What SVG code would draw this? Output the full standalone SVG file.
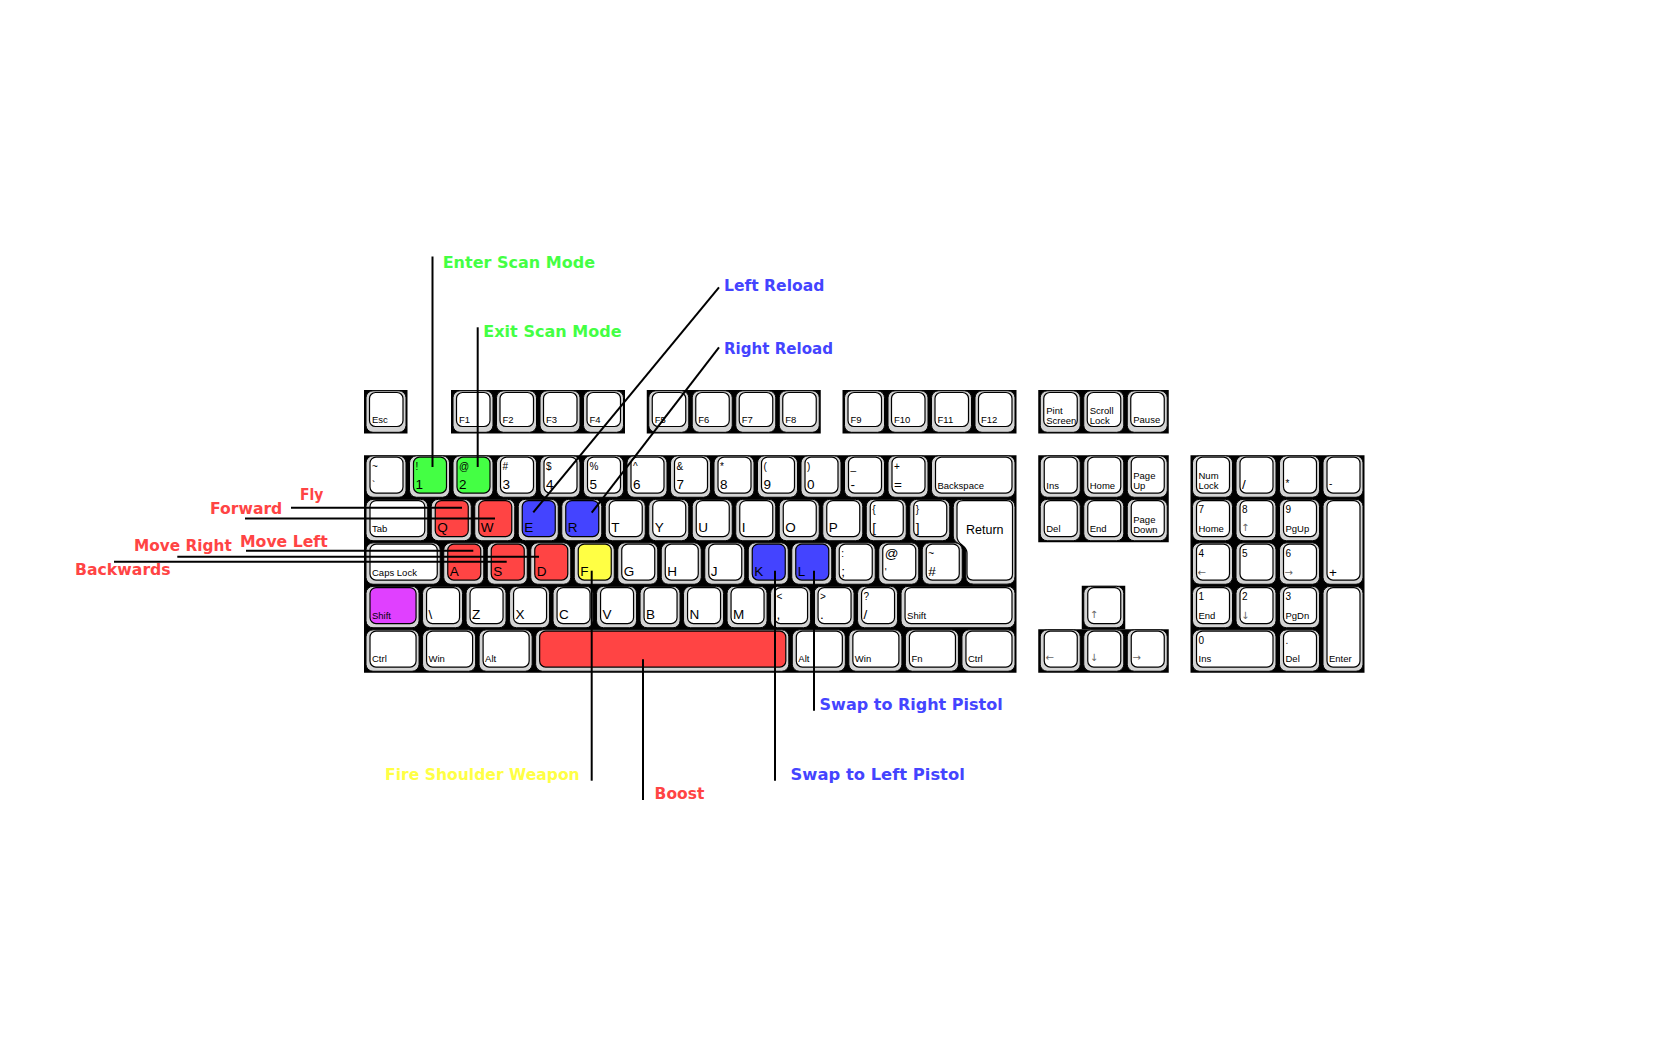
<svg xmlns="http://www.w3.org/2000/svg" width="1680" height="1050" viewBox="0 0 1680 1050">
<style>
.blk{fill:#000}
.w{fill:#fff}.g{fill:#44ff44}.r{fill:#ff4444}.b{fill:#4444ff}.y{fill:#ffff44}.m{fill:#e040ff}
text{font-family:"Liberation Sans",Arial,sans-serif;fill:#000}
.s{font-size:9.5px}.n{font-size:10px}.l{font-size:13.5px}.ar{font-family:"DejaVu Sans",sans-serif;font-size:10px;fill:#666}.ret{font-size:12.5px}
.lbl{font-family:"DejaVu Sans",Verdana,sans-serif;font-weight:bold;font-size:15.5px}
.lg{fill:#44ff44}.lr{fill:#ff4444}.lb{fill:#4444ff}.ly{fill:#ffff44}
#connectors line{stroke:#000;stroke-width:2}
</style>
<defs>
<g id="kF"><rect x="2" y="0.8" width="40" height="41.5" rx="7" fill="#d4d4d4" stroke="#000"/><rect x="5.5" y="2.5" width="33.5" height="34" rx="6" stroke="#000" stroke-width="1.2"/></g>
<g id="kU"><rect x="2" y="0.6" width="40" height="41.4" rx="7" fill="#d4d4d4" stroke="#000"/><rect x="6" y="1.8" width="33" height="36" rx="6" stroke="#000" stroke-width="1.2"/></g>
<g id="kBk"><rect x="2" y="0.6" width="83.5" height="41.4" rx="7" fill="#d4d4d4" stroke="#000"/><rect x="6" y="1.8" width="76.5" height="36" rx="6" stroke="#000" stroke-width="1.2"/></g>
<g id="kTab"><rect x="2" y="0.6" width="61.75" height="41.4" rx="7" fill="#d4d4d4" stroke="#000"/><rect x="6" y="1.8" width="54.75" height="36" rx="6" stroke="#000" stroke-width="1.2"/></g>
<g id="kCaps"><rect x="2" y="0.6" width="74.25" height="41.4" rx="7" fill="#d4d4d4" stroke="#000"/><rect x="6" y="1.8" width="67.25" height="36" rx="6" stroke="#000" stroke-width="1.2"/></g>
<g id="kM"><rect x="2" y="0.6" width="53.05" height="41.4" rx="7" fill="#d4d4d4" stroke="#000"/><rect x="6" y="1.8" width="46.05" height="36" rx="6" stroke="#000" stroke-width="1.2"/></g>
<g id="kRS"><rect x="2" y="0.6" width="113.95" height="41.4" rx="7" fill="#d4d4d4" stroke="#000"/><rect x="6" y="1.8" width="106.95" height="36" rx="6" stroke="#000" stroke-width="1.2"/></g>
<g id="kSp"><rect x="2" y="0.6" width="253.15" height="41.4" rx="7" fill="#d4d4d4" stroke="#000"/><rect x="6" y="1.8" width="246.15" height="36" rx="6" stroke="#000" stroke-width="1.2"/></g>
<g id="kT"><rect x="2" y="0.6" width="40" height="84.9" rx="7" fill="#d4d4d4" stroke="#000"/><rect x="6" y="1.8" width="33" height="79.5" rx="6" stroke="#000" stroke-width="1.2"/></g>
</defs>
<rect width="1680" height="1050" fill="#fff"/>

<g id="blocks">
<rect class="blk" x="364" y="390" width="43.5" height="43.5"/>
<rect class="blk" x="451" y="390" width="174" height="43.5"/>
<rect class="blk" x="646.75" y="390" width="174" height="43.5"/>
<rect class="blk" x="842.5" y="390" width="174" height="43.5"/>
<rect class="blk" x="1038.25" y="390" width="130.5" height="43.5"/>
<rect class="blk" x="364" y="455.25" width="652.5" height="217.5"/>
<rect class="blk" x="1038.25" y="455.25" width="130.5" height="87"/>
<rect class="blk" x="1081.75" y="585.75" width="43.5" height="43.5"/>
<rect class="blk" x="1038.25" y="629.25" width="130.5" height="43.5"/>
<rect class="blk" x="1190.5" y="455.25" width="174" height="217.5"/>
</g>

<g id="frow">
<g id="k-esc"><use href="#kF" x="364" y="390" class="w"/><text class="s" x="372" y="423">Esc</text></g>
<g id="k-f1"><use href="#kF" x="451" y="390" class="w"/><text class="s" x="459" y="423">F1</text></g>
<g id="k-f2"><use href="#kF" x="494.5" y="390" class="w"/><text class="s" x="502.5" y="423">F2</text></g>
<g id="k-f3"><use href="#kF" x="538" y="390" class="w"/><text class="s" x="546" y="423">F3</text></g>
<g id="k-f4"><use href="#kF" x="581.5" y="390" class="w"/><text class="s" x="589.5" y="423">F4</text></g>
<g id="k-f5"><use href="#kF" x="646.75" y="390" class="w"/><text class="s" x="654.75" y="423">F5</text></g>
<g id="k-f6"><use href="#kF" x="690.25" y="390" class="w"/><text class="s" x="698.25" y="423">F6</text></g>
<g id="k-f7"><use href="#kF" x="733.75" y="390" class="w"/><text class="s" x="741.75" y="423">F7</text></g>
<g id="k-f8"><use href="#kF" x="777.25" y="390" class="w"/><text class="s" x="785.25" y="423">F8</text></g>
<g id="k-f9"><use href="#kF" x="842.5" y="390" class="w"/><text class="s" x="850.5" y="423">F9</text></g>
<g id="k-f10"><use href="#kF" x="886" y="390" class="w"/><text class="s" x="894" y="423">F10</text></g>
<g id="k-f11"><use href="#kF" x="929.5" y="390" class="w"/><text class="s" x="937.5" y="423">F11</text></g>
<g id="k-f12"><use href="#kF" x="973" y="390" class="w"/><text class="s" x="981" y="423">F12</text></g>
<g id="k-prtsc"><use href="#kF" x="1038.25" y="390" class="w"/><text class="s" x="1046.25" y="413.5">Pint</text><text class="s" x="1046.25" y="423.5">Screen</text></g>
<g id="k-scroll"><use href="#kF" x="1081.75" y="390" class="w"/><text class="s" x="1089.75" y="413.5">Scroll</text><text class="s" x="1089.75" y="423.5">Lock</text></g>
<g id="k-pause"><use href="#kF" x="1125.25" y="390" class="w"/><text class="s" x="1133.25" y="423">Pause</text></g>
</g>

<g id="row1">
<g id="k-grave"><use href="#kU" x="364" y="455.25" class="w"/><text class="n" x="372" y="469.5">~</text><text class="n" x="372" y="489">`</text></g>
<g id="k-1"><use href="#kU" x="407.5" y="455.25" class="g"/><text class="n" x="415.5" y="469.5">!</text><text class="l" x="415.5" y="489">1</text></g>
<g id="k-2"><use href="#kU" x="451" y="455.25" class="g"/><text class="n" x="459" y="469.5">@</text><text class="l" x="459" y="489">2</text></g>
<g id="k-3"><use href="#kU" x="494.5" y="455.25" class="w"/><text class="n" x="502.5" y="469.5">#</text><text class="l" x="502.5" y="489">3</text></g>
<g id="k-4"><use href="#kU" x="538" y="455.25" class="w"/><text class="n" x="546" y="469.5">$</text><text class="l" x="546" y="489">4</text></g>
<g id="k-5"><use href="#kU" x="581.5" y="455.25" class="w"/><text class="n" x="589.5" y="469.5">%</text><text class="l" x="589.5" y="489">5</text></g>
<g id="k-6"><use href="#kU" x="625" y="455.25" class="w"/><text class="n" x="633" y="469.5">^</text><text class="l" x="633" y="489">6</text></g>
<g id="k-7"><use href="#kU" x="668.5" y="455.25" class="w"/><text class="n" x="676.5" y="469.5">&amp;</text><text class="l" x="676.5" y="489">7</text></g>
<g id="k-8"><use href="#kU" x="712" y="455.25" class="w"/><text class="n" x="720" y="469.5">*</text><text class="l" x="720" y="489">8</text></g>
<g id="k-9"><use href="#kU" x="755.5" y="455.25" class="w"/><text class="n" x="763.5" y="469.5">(</text><text class="l" x="763.5" y="489">9</text></g>
<g id="k-0"><use href="#kU" x="799" y="455.25" class="w"/><text class="n" x="807" y="469.5">)</text><text class="l" x="807" y="489">0</text></g>
<g id="k-minus"><use href="#kU" x="842.5" y="455.25" class="w"/><text class="n" x="850.5" y="469.5">_</text><text class="l" x="850.5" y="489">-</text></g>
<g id="k-equal"><use href="#kU" x="886" y="455.25" class="w"/><text class="n" x="894" y="469.5">+</text><text class="l" x="894" y="489">=</text></g>
<g id="k-backspace"><use href="#kBk" x="929.5" y="455.25" class="w"/><text class="s" x="937.5" y="489">Backspace</text></g>
</g>

<g id="row2">
<g id="k-tab"><use href="#kTab" x="364" y="498.75" class="w"/><text class="s" x="372" y="532">Tab</text></g>
<g id="k-q"><use href="#kU" x="429.25" y="498.75" class="r"/><text class="l" x="437.25" y="532">Q</text></g>
<g id="k-w"><use href="#kU" x="472.75" y="498.75" class="r"/><text class="l" x="480.75" y="532">W</text></g>
<g id="k-e"><use href="#kU" x="516.25" y="498.75" class="b"/><text class="l" x="524.25" y="532">E</text></g>
<g id="k-r"><use href="#kU" x="559.75" y="498.75" class="b"/><text class="l" x="567.75" y="532">R</text></g>
<g id="k-t"><use href="#kU" x="603.25" y="498.75" class="w"/><text class="l" x="611.25" y="532">T</text></g>
<g id="k-y"><use href="#kU" x="646.75" y="498.75" class="w"/><text class="l" x="654.75" y="532">Y</text></g>
<g id="k-u"><use href="#kU" x="690.25" y="498.75" class="w"/><text class="l" x="698.25" y="532">U</text></g>
<g id="k-i"><use href="#kU" x="733.75" y="498.75" class="w"/><text class="l" x="741.75" y="532">I</text></g>
<g id="k-o"><use href="#kU" x="777.25" y="498.75" class="w"/><text class="l" x="785.25" y="532">O</text></g>
<g id="k-p"><use href="#kU" x="820.75" y="498.75" class="w"/><text class="l" x="828.75" y="532">P</text></g>
<g id="k-lbracket"><use href="#kU" x="864.25" y="498.75" class="w"/><text class="n" x="872.25" y="513">{</text><text class="l" x="872.25" y="532">[</text></g>
<g id="k-rbracket"><use href="#kU" x="907.75" y="498.75" class="w"/><text class="n" x="915.75" y="513">}</text><text class="l" x="915.75" y="532">]</text></g>
<g id="k-return">
<path d="M953.25,507.35 Q953.25,499.35 961.25,499.35 H1007 Q1015,499.35 1015,507.35 V576.15 Q1015,584.15 1007,584.15 H973.75 Q965.75,584.15 965.75,576.15 V552 C965.75,543 953.25,545 953.25,536 Z" fill="#d4d4d4" stroke="#000"/>
<path d="M957,506.55 Q957,500.55 963,500.55 H1006.5 Q1012.5,500.55 1012.5,506.55 V574.05 Q1012.5,580.05 1006.5,580.05 H973 Q967,580.05 967,574.05 V553 C967,545 957,545 957,537 Z" fill="#fff" stroke="#000" stroke-width="1.2"/>
<text class="ret" x="966" y="534">Return</text>
</g>
</g>

<g id="row3">
<g id="k-caps"><use href="#kCaps" x="364" y="542.25" class="w"/><text class="s" x="372" y="575.5">Caps Lock</text></g>
<g id="k-a"><use href="#kU" x="441.75" y="542.25" class="r"/><text class="l" x="449.75" y="575.5">A</text></g>
<g id="k-s"><use href="#kU" x="485.25" y="542.25" class="r"/><text class="l" x="493.25" y="575.5">S</text></g>
<g id="k-d"><use href="#kU" x="528.75" y="542.25" class="r"/><text class="l" x="536.75" y="575.5">D</text></g>
<g id="k-f"><use href="#kU" x="572.25" y="542.25" class="y"/><text class="l" x="580.25" y="575.5">F</text></g>
<g id="k-g"><use href="#kU" x="615.75" y="542.25" class="w"/><text class="l" x="623.75" y="575.5">G</text></g>
<g id="k-h"><use href="#kU" x="659.25" y="542.25" class="w"/><text class="l" x="667.25" y="575.5">H</text></g>
<g id="k-j"><use href="#kU" x="702.75" y="542.25" class="w"/><text class="l" x="710.75" y="575.5">J</text></g>
<g id="k-k"><use href="#kU" x="746.25" y="542.25" class="b"/><text class="l" x="754.25" y="575.5">K</text></g>
<g id="k-l"><use href="#kU" x="789.75" y="542.25" class="b"/><text class="l" x="797.75" y="575.5">L</text></g>
<g id="k-semicolon"><use href="#kU" x="833.25" y="542.25" class="w"/><text class="n" x="841.25" y="556.5">:</text><text class="l" x="841.25" y="575.5">;</text></g>
<g id="k-quote"><use href="#kU" x="876.75" y="542.25" class="w"/><text class="l" x="884.75" y="558">@</text><text class="n" x="884.75" y="575.5">'</text></g>
<g id="k-hash"><use href="#kU" x="920.25" y="542.25" class="w"/><text class="n" x="928.25" y="556.5">~</text><text class="l" x="928.25" y="575.5">#</text></g>
</g>

<g id="row4">
<g id="k-lshift"><use href="#kM" x="364" y="585.75" class="m"/><text class="s" x="372" y="619">Shift</text></g>
<g id="k-backslash"><use href="#kU" x="420.55" y="585.75" class="w"/><text class="l" x="428.55" y="619">\</text></g>
<g id="k-z"><use href="#kU" x="464.05" y="585.75" class="w"/><text class="l" x="472.05" y="619">Z</text></g>
<g id="k-x"><use href="#kU" x="507.55" y="585.75" class="w"/><text class="l" x="515.55" y="619">X</text></g>
<g id="k-c"><use href="#kU" x="551.05" y="585.75" class="w"/><text class="l" x="559.05" y="619">C</text></g>
<g id="k-v"><use href="#kU" x="594.55" y="585.75" class="w"/><text class="l" x="602.55" y="619">V</text></g>
<g id="k-b"><use href="#kU" x="638.05" y="585.75" class="w"/><text class="l" x="646.05" y="619">B</text></g>
<g id="k-n"><use href="#kU" x="681.55" y="585.75" class="w"/><text class="l" x="689.55" y="619">N</text></g>
<g id="k-m"><use href="#kU" x="725.05" y="585.75" class="w"/><text class="l" x="733.05" y="619">M</text></g>
<g id="k-comma"><use href="#kU" x="768.55" y="585.75" class="w"/><text class="n" x="776.55" y="600">&lt;</text><text class="l" x="776.55" y="619">,</text></g>
<g id="k-period"><use href="#kU" x="812.05" y="585.75" class="w"/><text class="n" x="820.05" y="600">&gt;</text><text class="l" x="820.05" y="619">.</text></g>
<g id="k-slash"><use href="#kU" x="855.55" y="585.75" class="w"/><text class="n" x="863.55" y="600">?</text><text class="l" x="863.55" y="619">/</text></g>
<g id="k-rshift"><use href="#kRS" x="899.05" y="585.75" class="w"/><text class="s" x="907.05" y="619">Shift</text></g>
</g>

<g id="row5">
<g id="k-lctrl"><use href="#kM" x="364" y="629.25" class="w"/><text class="s" x="372" y="662">Ctrl</text></g>
<g id="k-lwin"><use href="#kM" x="420.55" y="629.25" class="w"/><text class="s" x="428.55" y="662">Win</text></g>
<g id="k-lalt"><use href="#kM" x="477.1" y="629.25" class="w"/><text class="s" x="485.1" y="662">Alt</text></g>
<g id="k-space"><use href="#kSp" x="533.65" y="629.25" class="r"/></g>
<g id="k-ralt"><use href="#kM" x="790.3" y="629.25" class="w"/><text class="s" x="798.3" y="662">Alt</text></g>
<g id="k-rwin"><use href="#kM" x="846.85" y="629.25" class="w"/><text class="s" x="854.85" y="662">Win</text></g>
<g id="k-fn"><use href="#kM" x="903.4" y="629.25" class="w"/><text class="s" x="911.4" y="662">Fn</text></g>
<g id="k-rctrl"><use href="#kM" x="959.95" y="629.25" class="w"/><text class="s" x="967.95" y="662">Ctrl</text></g>
</g>

<g id="nav">
<g id="k-ins"><use href="#kU" x="1038.25" y="455.25" class="w"/><text class="s" x="1046.25" y="489">Ins</text></g>
<g id="k-home"><use href="#kU" x="1081.75" y="455.25" class="w"/><text class="s" x="1089.75" y="489">Home</text></g>
<g id="k-pgup"><use href="#kU" x="1125.25" y="455.25" class="w"/><text class="s" x="1133.25" y="479">Page</text><text class="s" x="1133.25" y="489">Up</text></g>
<g id="k-del"><use href="#kU" x="1038.25" y="498.75" class="w"/><text class="s" x="1046.25" y="532">Del</text></g>
<g id="k-end"><use href="#kU" x="1081.75" y="498.75" class="w"/><text class="s" x="1089.75" y="532">End</text></g>
<g id="k-pgdn"><use href="#kU" x="1125.25" y="498.75" class="w"/><text class="s" x="1133.25" y="522.5">Page</text><text class="s" x="1133.25" y="532.5">Down</text></g>
<g id="k-up"><use href="#kU" x="1081.75" y="585.75" class="w"/><text class="ar" x="1089.75" y="618">↑</text></g>
<g id="k-left"><use href="#kU" x="1038.25" y="629.25" class="w"/><text class="ar" x="1045.5" y="661">←</text></g>
<g id="k-down"><use href="#kU" x="1081.75" y="629.25" class="w"/><text class="ar" x="1089.75" y="661">↓</text></g>
<g id="k-right"><use href="#kU" x="1125.25" y="629.25" class="w"/><text class="ar" x="1132.5" y="661">→</text></g>
</g>

<g id="numpad">
<g id="k-numlock"><use href="#kU" x="1190.5" y="455.25" class="w"/><text class="s" x="1198.5" y="478.5">Num</text><text class="s" x="1198.5" y="489">Lock</text></g>
<g id="k-ndiv"><use href="#kU" x="1234" y="455.25" class="w"/><text class="l" x="1242" y="489">/</text></g>
<g id="k-nmul"><use href="#kU" x="1277.5" y="455.25" class="w"/><text class="n" x="1285.5" y="487">*</text></g>
<g id="k-nsub"><use href="#kU" x="1321" y="455.25" class="w"/><text class="n" x="1329" y="487">-</text></g>
<g id="k-n7"><use href="#kU" x="1190.5" y="498.75" class="w"/><text class="n" x="1198.5" y="513">7</text><text class="s" x="1198.5" y="532">Home</text></g>
<g id="k-n8"><use href="#kU" x="1234" y="498.75" class="w"/><text class="n" x="1242" y="513">8</text><text class="ar" x="1241" y="531">↑</text></g>
<g id="k-n9"><use href="#kU" x="1277.5" y="498.75" class="w"/><text class="n" x="1285.5" y="513">9</text><text class="s" x="1285.5" y="532">PgUp</text></g>
<g id="k-nadd"><use href="#kT" x="1321" y="498.75" class="w"/><text class="l" x="1329" y="577">+</text></g>
<g id="k-n4"><use href="#kU" x="1190.5" y="542.25" class="w"/><text class="n" x="1198.5" y="556.5">4</text><text class="ar" x="1197.5" y="576">←</text></g>
<g id="k-n5"><use href="#kU" x="1234" y="542.25" class="w"/><text class="n" x="1242" y="556.5">5</text></g>
<g id="k-n6"><use href="#kU" x="1277.5" y="542.25" class="w"/><text class="n" x="1285.5" y="556.5">6</text><text class="ar" x="1284.5" y="576">→</text></g>
<g id="k-n1"><use href="#kU" x="1190.5" y="585.75" class="w"/><text class="n" x="1198.5" y="600">1</text><text class="s" x="1198.5" y="619">End</text></g>
<g id="k-n2"><use href="#kU" x="1234" y="585.75" class="w"/><text class="n" x="1242" y="600">2</text><text class="ar" x="1241" y="619">↓</text></g>
<g id="k-n3"><use href="#kU" x="1277.5" y="585.75" class="w"/><text class="n" x="1285.5" y="600">3</text><text class="s" x="1285.5" y="619">PgDn</text></g>
<g id="k-nenter"><use href="#kT" x="1321" y="585.75" class="w"/><text class="s" x="1329" y="662">Enter</text></g>
<g id="k-n0"><use href="#kBk" x="1190.5" y="629.25" class="w"/><text class="n" x="1198.5" y="643.5">0</text><text class="s" x="1198.5" y="662">Ins</text></g>
<g id="k-ndot"><use href="#kU" x="1277.5" y="629.25" class="w"/><text class="n" x="1285.5" y="643.5">.</text><text class="s" x="1285.5" y="662">Del</text></g>
</g>

<g id="connectors">
<line x1="432.5" y1="256.5" x2="432.5" y2="467"/>
<line x1="477.7" y1="327.3" x2="477.7" y2="467"/>
<line x1="719" y1="287.3" x2="533.3" y2="512.3"/>
<line x1="719" y1="347.3" x2="591.7" y2="512.7"/>
<line x1="291" y1="507.7" x2="462" y2="507.7"/>
<line x1="245" y1="518.5" x2="495" y2="518.5"/>
<line x1="246" y1="550.7" x2="473.3" y2="550.7"/>
<line x1="177.3" y1="556.7" x2="539" y2="556.7"/>
<line x1="114" y1="561.8" x2="506.7" y2="561.8"/>
<line x1="591.7" y1="570.7" x2="591.7" y2="780.7"/>
<line x1="643" y1="659.3" x2="643" y2="800"/>
<line x1="775" y1="570.7" x2="775" y2="780.7"/>
<line x1="814" y1="570.7" x2="814" y2="710.7"/>
</g>

<g id="labels">
<text id="lbl-enter" class="lbl lg" x="442.7" y="268.3" textLength="152.3" lengthAdjust="spacingAndGlyphs">Enter Scan Mode</text>
<text id="lbl-exit" class="lbl lg" x="483.3" y="337.3" textLength="138.4" lengthAdjust="spacingAndGlyphs">Exit Scan Mode</text>
<text id="lbl-lreload" class="lbl lb" x="724" y="290.7" textLength="100.3" lengthAdjust="spacingAndGlyphs">Left Reload</text>
<text id="lbl-rreload" class="lbl lb" x="724" y="353.7" textLength="109" lengthAdjust="spacingAndGlyphs">Right Reload</text>
<text id="lbl-fly" class="lbl lr" x="300" y="500" textLength="23.3" lengthAdjust="spacingAndGlyphs">Fly</text>
<text id="lbl-forward" class="lbl lr" x="210" y="514" textLength="72.3" lengthAdjust="spacingAndGlyphs">Forward</text>
<text id="lbl-moveleft" class="lbl lr" x="240" y="546.5" textLength="87.7" lengthAdjust="spacingAndGlyphs">Move Left</text>
<text id="lbl-moveright" class="lbl lr" x="134" y="550.5" textLength="97.7" lengthAdjust="spacingAndGlyphs">Move Right</text>
<text id="lbl-backwards" class="lbl lr" x="75" y="575" textLength="95.7" lengthAdjust="spacingAndGlyphs">Backwards</text>
<text id="lbl-fire" class="lbl ly" x="385" y="780" textLength="194.7" lengthAdjust="spacingAndGlyphs">Fire Shoulder Weapon</text>
<text id="lbl-boost" class="lbl lr" x="654.6" y="799.3" textLength="49.7" lengthAdjust="spacingAndGlyphs">Boost</text>
<text id="lbl-swapleft" class="lbl lb" x="790.6" y="780" textLength="174.2" lengthAdjust="spacingAndGlyphs">Swap to Left Pistol</text>
<text id="lbl-swapright" class="lbl lb" x="819.6" y="709.5" textLength="183.1" lengthAdjust="spacingAndGlyphs">Swap to Right Pistol</text>
</g>
</svg>
